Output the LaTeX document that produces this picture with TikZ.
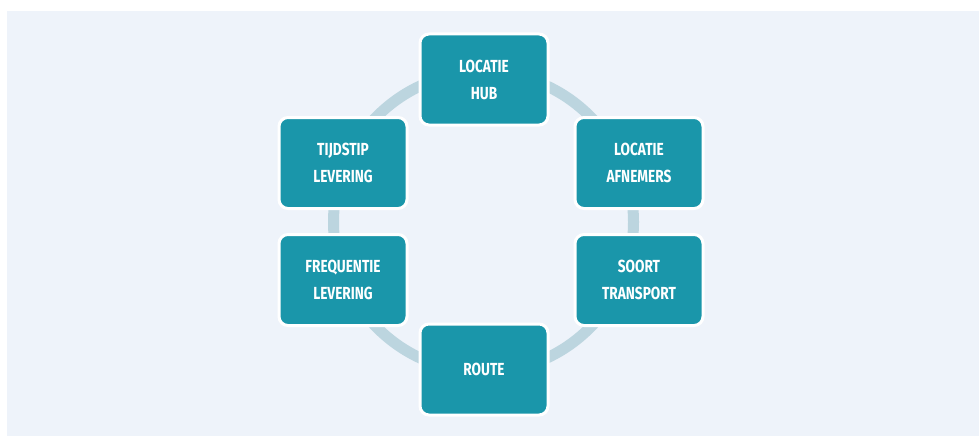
\documentclass[tikz,border=0pt]{standalone}
\usepackage{fontspec}
\setmainfont{Fira Sans}[FakeStretch=0.78, BoldFont={Fira Sans Bold}]
\definecolor{pageblue}{HTML}{EEF3FA}
\definecolor{ringblue}{HTML}{BCD5DF}
\definecolor{boxteal}{HTML}{1A96AA}
\begin{document}
\begin{tikzpicture}%
	[x=1pt, y=-1pt,
	ring/.style={draw=ringblue, line width=11pt},
	factor/.style={fill=boxteal, draw=white, line width=3pt, rounded corners=9pt,
		minimum width=128pt, minimum height=91pt, align=center,
		text=white, font=\fontsize{17.5}{27}\selectfont\bfseries}]
%
%% Page and background
\useasboundingbox (0,0) rectangle (979,436);
\fill[pageblue] (7,11) rectangle (979,436);
%
%% The ring behind the factors
\coordinate (centre) at (483.5,222);
\draw[ring] (centre) circle[radius=150];
%
%% The factors
\node[factor] (hub)        at (484,79.5)  {LOCATIE\\HUB};
\node[factor] (afnemers)   at (639,163)   {LOCATIE\\AFNEMERS};
\node[factor] (transport)  at (639,280)   {SOORT\\TRANSPORT};
\node[factor] (route)      at (484,369.5) {ROUTE};
\node[factor] (frequentie) at (343,280)   {FREQUENTIE\\LEVERING};
\node[factor] (tijdstip)   at (343,163)   {TIJDSTIP\\LEVERING};
%
\end{tikzpicture}
\end{document}
